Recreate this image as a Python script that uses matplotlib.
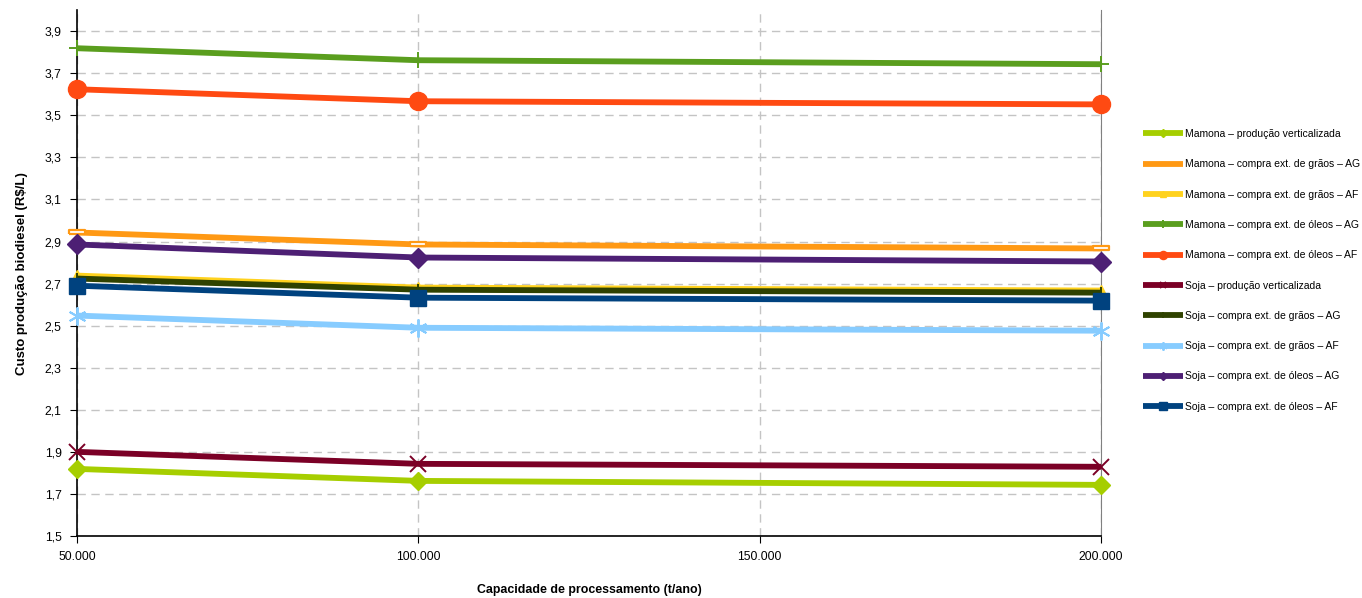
import matplotlib
matplotlib.use("Agg")
import matplotlib.pyplot as plt
from matplotlib.ticker import FixedLocator

plt.rcParams['font.family'] = ['Liberation Sans', 'DejaVu Sans']

capacidade = [50000, 100000, 200000]
x_ticks = [50000, 100000, 150000, 200000]
x_tick_labels = ["50.000", "100.000", "150.000", "200.000"]
y_ticks = [1.5, 1.7, 1.9, 2.1, 2.3, 2.5, 2.7, 2.9, 3.1, 3.3, 3.5, 3.7, 3.9]

labels = [
    "Mamona – produção verticalizada",
    "Mamona – compra ext. de grãos – AG",
    "Mamona – compra ext. de grãos – AF",
    "Mamona – compra ext. de óleos – AG",
    "Mamona – compra ext. de óleos – AF",
    "Soja – produção verticalizada",
    "Soja – compra ext. de grãos – AG",
    "Soja – compra ext. de grãos – AF",
    "Soja – compra ext. de óleos – AG",
    "Soja – compra ext. de óleos – AF",
]

mamona_vert = [1.819, 1.762, 1.743]
mamona_graos_ag = [2.943, 2.886, 2.867]
mamona_graos_af = [2.738, 2.681, 2.667]
mamona_oleos_ag = [3.819, 3.762, 3.743]
mamona_oleos_af = [3.624, 3.567, 3.552]
soja_vert = [1.900, 1.843, 1.829]
soja_graos_ag = [2.724, 2.671, 2.657]
soja_graos_af = [2.548, 2.490, 2.476]
soja_oleos_ag = [2.886, 2.824, 2.805]
soja_oleos_af = [2.690, 2.633, 2.619]

series = [mamona_vert, mamona_graos_ag, mamona_graos_af, mamona_oleos_ag, mamona_oleos_af,
          soja_vert, soja_graos_ag, soja_graos_af, soja_oleos_ag, soja_oleos_af]

colors = ["#A6CE00", "#FF9914", "#FFD21E", "#5A9E1E", "#FF4A12",
          "#7B0026", "#2F4200", "#87CCFF", "#4D1F74", "#00427F"]
rect_marker = [(-1, -0.3), (1, -0.3), (1, 0.3), (-1, 0.3), (-1, -0.3)]
markers = ["D", rect_marker, "^", "+", "o", "x", "|", (6, 2, 0), "D", "s"]
msizes = [9, 11, 9, 12, 13, 11, 9, 13, 10, 12]

fig = plt.figure(figsize=(13.62, 5.98), dpi=100)
ax = fig.add_axes([0.0565, 0.1037, 0.752, 0.8793])

for vals, c, m, ms, lab in zip(series, colors, markers, msizes, labels):
    kw = dict(color=c, lw=4.2, marker=m, ms=ms, mec=c, mfc=c, label=lab,
              solid_capstyle='butt', clip_on=False, zorder=3)
    if isinstance(m, list):
        kw.update(mfc='white', mew=1.6)
    if m in ("+", "x", "|") or isinstance(m, tuple):
        kw.update(mew=1.4)
    ax.plot(capacidade, vals, **kw)

ax.set_xlim(50000, 200000)
ax.set_ylim(1.5, 4.0)
ax.xaxis.set_major_locator(FixedLocator(x_ticks))
ax.set_xticklabels(x_tick_labels)
ax.yaxis.set_major_locator(FixedLocator(y_ticks))
ax.set_yticklabels([f"{v:.1f}".replace(".", ",") for v in y_ticks])

ax.grid(True, axis='both', color='#C4C4C4', linestyle=(0, (6, 4)), lw=1.0, zorder=0)
ax.spines['top'].set_visible(False)
ax.spines['right'].set_color('#808080')
ax.spines['left'].set_color('black')
ax.spines['bottom'].set_color('black')
ax.spines['left'].set_linewidth(1.2)
ax.spines['bottom'].set_linewidth(1.2)

ax.tick_params(axis='both', labelsize=8.7, length=5, direction='out', colors='black', pad=6)

ax.set_ylabel("Custo produção biodiesel (R$/L)", fontsize=9.5, fontweight='bold', labelpad=12)
fig.text(0.4325, 0.0134, "Capacidade de processamento (t/ano)", fontsize=8.9,
         fontweight='bold', ha='center', va='center')

handles, labs = ax.get_legend_handles_labels()
leg = fig.legend(handles, labs, loc='upper left', bbox_to_anchor=(0.832, 0.800),
                 frameon=False, fontsize=7.5, handlelength=3.9, handletextpad=0.15,
                 labelspacing=1.95, markerscale=0.45)

fig.savefig("out.png", dpi=100)
